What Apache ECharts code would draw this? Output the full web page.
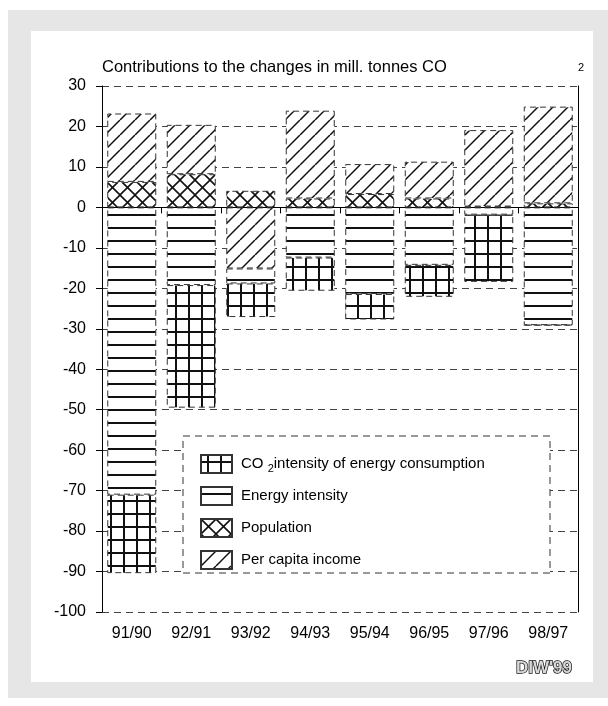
<!DOCTYPE html>
<html>
<head>
<meta charset="utf-8">
<script src="https://cdn.jsdelivr.net/npm/echarts@6/dist/echarts.min.js"></script>
<style>
  html, body { margin: 0; padding: 0; background: #fff; }
  #chart { width: 608px; height: 706px; }
</style>
</head>
<body>
<div id="chart"></div>
<script>
// Contributions to the changes in mill. tonnes CO2 (DIW'99)
const categories = ['91/90', '92/91', '93/92', '94/93', '95/94', '96/95', '97/96', '98/97'];
const population = [6.3, 8.2, 4.1, 2.2, 3.3, 2.2, 0.2, 1.0];
const perCapitaIncome = [16.9, 12.2, -15.1, 21.7, 7.4, 9.1, 18.9, 23.9];
const energyIntensity = [-71.0, -19.2, -3.7, -12.4, -21.4, -14.2, -1.8, -29.1];
const co2Intensity = [-19.4, -30.3, -8.3, -8.2, -6.3, -7.9, -16.6, 0];
const yMin = -100, yMax = 30, yStep = 10;

const FONT = '"Liberation Sans", Arial, sans-serif';

// pattern fills drawn on small canvases
function makePattern(size, draw) {
    const c = document.createElement('canvas');
    c.width = size;
    c.height = size;
    const ctx = c.getContext('2d');
    ctx.fillStyle = '#fff';
    ctx.fillRect(0, 0, size, size);
    ctx.strokeStyle = '#111';
    ctx.fillStyle = '#111';
    draw(ctx, size);
    return { image: c, repeat: 'repeat' };
}

const gridPattern = makePattern(13, function(ctx, s) {
    ctx.fillRect(6, 0, 2, s);
    ctx.fillRect(0, 6, s, 2);
});
const linePattern = makePattern(13, function(ctx, s) {
    ctx.fillRect(0, 6, s, 2);
});
const crossPattern = makePattern(15, function(ctx, s) {
    ctx.lineWidth = 1.6;
    [-s, 0, s].forEach(k => {
        ctx.beginPath(); ctx.moveTo(k, s); ctx.lineTo(k + s, 0); ctx.stroke();
        ctx.beginPath(); ctx.moveTo(k, 0); ctx.lineTo(k + s, s); ctx.stroke();
    });
});
const diagPattern = makePattern(15, function(ctx, s) {
    ctx.lineWidth = 1.5;
    [-s, 0, s].forEach(k => {
        ctx.beginPath(); ctx.moveTo(k, s); ctx.lineTo(k + s, 0); ctx.stroke();
    });
});

function barSeries(name, data, pattern) {
    return {
        name: name,
        type: 'bar',
        stack: 'total',
        barWidth: 49,
        data: data,
        itemStyle: {
            color: pattern,
            borderColor: '#333',
            borderWidth: 1,
            borderType: [6, 4]
        }
    };
}

const chart = echarts.init(document.getElementById('chart'));

const option = {
    backgroundColor: '#fff',
    animation: false,
    textStyle: { fontFamily: FONT },
    title: [
        {
            text: 'Contributions to the changes in mill. tonnes CO',
            left: 97,
            top: 54,
            textStyle: { fontFamily: FONT, fontSize: 16.5, fontWeight: 'normal', color: '#000' }
        },
        {
            text: '2',
            left: 573,
            top: 57,
            textStyle: { fontFamily: FONT, fontSize: 11, fontWeight: 'normal', color: '#000' }
        },
        {
            text: "DIW'99",
            left: 511,
            top: 655,
            textStyle: {
                fontFamily: FONT, fontSize: 17, fontWeight: 'bold', color: '#d8d8d8',
                textBorderColor: '#111', textBorderWidth: 1.4
            }
        }
    ],
    graphic: [
        { type: 'rect', z: -10, silent: true, shape: { x: 8, y: 10, width: 600, height: 688 }, style: { fill: '#e6e6e6' } },
        { type: 'rect', z: -9, silent: true, shape: { x: 31, y: 31, width: 562, height: 651 }, style: { fill: '#fff' } },
        { type: 'rect', z: 3, silent: true, shape: { x: 183, y: 436, width: 367, height: 137 },
          style: { fill: '#fff', stroke: '#333', lineWidth: 1, lineDash: [7, 5] } }
    ],
    legend: {
        orient: 'vertical',
        left: 183,
        top: 436,
        z: 10,
        padding: [18, 0, 0, 17],
        itemGap: 12,
        itemWidth: 31,
        itemHeight: 18,
        icon: 'rect',
        data: ['CO2 intensity', 'Energy intensity', 'Population', 'Per capita income'],
        formatter: function(name) {
            if (name === 'CO2 intensity') return 'CO {s|2}intensity of energy consumption';
            return name;
        },
        textStyle: {
            fontFamily: FONT,
            fontSize: 15,
            color: '#000',
            padding: [0, 0, 0, 4],
            rich: {
                s: { fontFamily: FONT, fontSize: 11, padding: [9, 0, 0, 0] }
            }
        }
    },
    grid: { left: 102, right: 30, top: 86, bottom: 94 },
    xAxis: [
        {
            type: 'category',
            data: categories,
            position: 'bottom',
            axisLine: { show: false },
            axisTick: { show: true, length: 6, lineStyle: { color: '#000' } },
            axisLabel: { margin: 14, fontSize: 16, color: '#000', fontFamily: FONT }
        },
        {
            type: 'category',
            data: categories,
            position: 'top',
            axisLine: { show: true, lineStyle: { color: '#000' } },
            axisTick: { show: false },
            axisLabel: { show: false }
        }
    ],
    yAxis: [
        {
            type: 'value',
            min: yMin,
            max: yMax,
            interval: yStep,
            axisLine: { show: true, lineStyle: { color: '#000' } },
            axisTick: { show: true, length: 6, lineStyle: { color: '#000' } },
            axisLabel: { margin: 16, fontSize: 16, color: '#000', fontFamily: FONT },
            splitLine: { show: true, lineStyle: { color: '#444', type: [7, 5] } }
        },
        {
            type: 'value',
            min: yMin,
            max: yMax,
            interval: yStep,
            position: 'right',
            axisLine: { show: true, lineStyle: { color: '#000' } },
            axisTick: { show: false },
            axisLabel: { show: false },
            splitLine: { show: false }
        }
    ],
    series: [
        barSeries('Population', population, crossPattern),
        barSeries('Per capita income', perCapitaIncome, diagPattern),
        barSeries('Energy intensity', energyIntensity, linePattern),
        barSeries('CO2 intensity', co2Intensity, gridPattern)
    ]
};

chart.setOption(option);
</script>
</body>
</html>
